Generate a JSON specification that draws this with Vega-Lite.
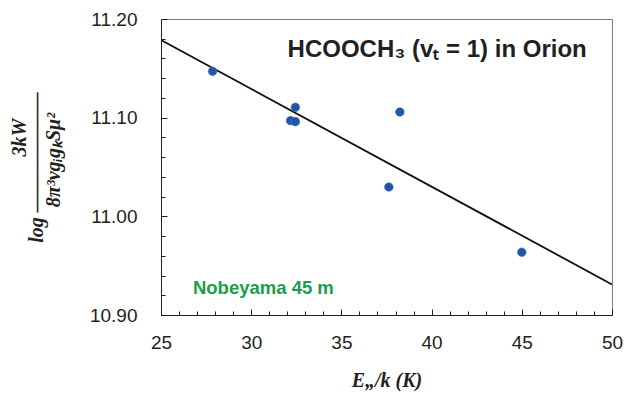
{
  "$schema": "https://vega.github.io/schema/vega-lite/v6.json",
  "width": 451,
  "height": 296,
  "autosize": {"type": "none"},
  "padding": {"left": 161, "top": 19, "right": 14, "bottom": 82},
  "background": "white",
  "config": {"view": {"stroke": "#7a7a7a", "strokeWidth": 1}, "font": "Liberation Sans"},
  "datasets": {
    "points": [
      {"E": 27.86, "logN": 11.147},
      {"E": 32.45, "logN": 11.1105},
      {"E": 32.18, "logN": 11.097},
      {"E": 32.45, "logN": 11.096},
      {"E": 38.24, "logN": 11.1057},
      {"E": 37.63, "logN": 11.0297},
      {"E": 45.0, "logN": 10.9636}
    ],
    "fit": [
      {"E": 25, "logN": 11.1787},
      {"E": 50, "logN": 10.931}
    ]
  },
  "layer": [
    {
      "data": {"name": "fit"},
      "mark": {"type": "line", "color": "#111111", "strokeWidth": 1.8, "clip": true},
      "encoding": {
        "x": {
          "field": "E", "type": "quantitative",
          "scale": {"domain": [25, 50], "nice": false, "zero": false},
          "axis": {
            "title": "E\u201E/k  (K)",
            "values": [25,26,27,28,29,30,31,32,33,34,35,36,37,38,39,40,41,42,43,44,45,46,47,48,49,50],
            "tickCount": 100,
            "labelExpr": "datum.value % 5 === 0 ? format(datum.value, 'd') : ''",
            "tickSize": {"condition": {"test": "datum.value % 5 === 0", "value": -6}, "value": -4},
            "tickWidth": 1,
            "labelPadding": 24,
            "labelFontSize": 19,
            "labelFont": "Liberation Sans",
            "labelColor": "#231f20",
            "labelOverlap": false,
            "labelFlush": false,
            "labelBound": false,
            "domainColor": "#231f20",
            "tickColor": "#231f20",
            "grid": false,
            "titleFont": "Liberation Serif",
            "titleFontSize": 20,
            "titleFontStyle": "italic",
            "titleFontWeight": "bold",
            "titleColor": "#231f20",
            "titlePadding": 16
          }
        },
        "y": {
          "field": "logN", "type": "quantitative",
          "scale": {"domain": [10.9, 11.2], "nice": false, "zero": false},
          "axis": {
            "title": ["\u2800\u2800\u2800\u28003kW", "log \u2014\u2014\u2014\u2014\u2014\u2014", "\u28008\u03c0\u00b3\u03bdg\u1d62g\u2096S\u03bc\u00b2"],
            "values": [10.9,10.92,10.94,10.96,10.98,11.0,11.02,11.04,11.06,11.08,11.1,11.12,11.14,11.16,11.18,11.2],
            "tickCount": 100,
            "labelExpr": "abs(datum.value*10 - round(datum.value*10)) < 1e-6 ? format(datum.value, '.2f') : ''",
            "tickSize": {"condition": {"test": "abs(datum.value*10 - round(datum.value*10)) < 1e-6", "value": -6}, "value": -4},
            "tickWidth": 1,
            "labelPadding": 30,
            "labelFontSize": 19,
            "labelFont": "Liberation Sans",
            "labelColor": "#231f20",
            "labelOverlap": false,
            "labelFlush": false,
            "labelBound": false,
            "domainColor": "#231f20",
            "tickColor": "#231f20",
            "grid": false,
            "titleFont": "Liberation Serif",
            "titleFontSize": 20,
            "titleFontStyle": "italic",
            "titleFontWeight": "bold",
            "titleColor": "#231f20",
            "titleLineHeight": 17,
            "titlePadding": 26
          }
        }
      }
    },
    {
      "data": {"name": "points"},
      "mark": {"type": "circle", "size": 75, "color": "#2156a5", "opacity": 1, "stroke": "#4a78bd", "strokeWidth": 0.6},
      "encoding": {
        "x": {"field": "E", "type": "quantitative"},
        "y": {"field": "logN", "type": "quantitative"}
      }
    },
    {
      "data": {"values": [{}]},
      "mark": {"type": "text", "text": "HCOOCH\u2083 (v\u209C = 1) in Orion", "align": "right", "baseline": "alphabetic", "font": "Liberation Sans", "fontWeight": "bold", "fontSize": 24, "color": "#231f20"},
      "encoding": {"x": {"datum": 48.6}, "y": {"datum": 11.1615}}
    },
    {
      "data": {"values": [{}]},
      "mark": {"type": "text", "text": "Nobeyama 45 m", "align": "left", "baseline": "alphabetic", "font": "Liberation Sans", "fontWeight": "bold", "fontSize": 18.5, "color": "#1a9e4b"},
      "encoding": {"x": {"datum": 26.77}, "y": {"datum": 10.921}}
    }
  ]
}
